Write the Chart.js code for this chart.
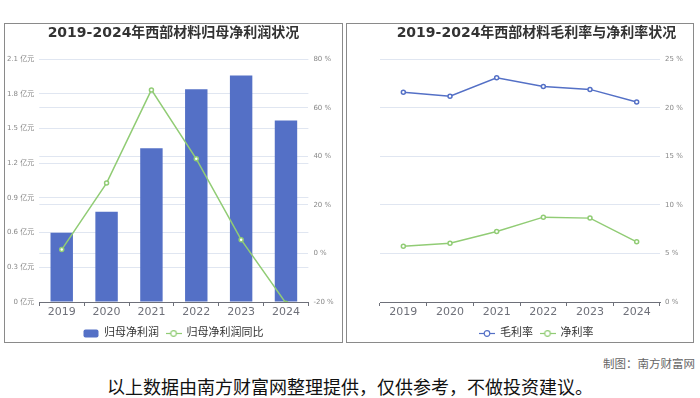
<!DOCTYPE html>
<html>
<head>
<meta charset="utf-8">
<script src="https://cdn.jsdelivr.net/npm/chart.js@4"></script>
<style>
body { margin: 0; width: 700px; height: 398px; background: #fff; position: relative; overflow: hidden; font-family: 'Noto Sans CJK SC', sans-serif; }
.panel { position: absolute; top: 23px; height: 318px; border: 1px solid #8a8a8a; overflow: hidden; }
#p1 { left: 4px; width: 337px; }
#p2 { left: 346px; width: 346px; }
.note { position: absolute; right: 5px; top: 355px; font-size: 11.5px; color: #666; }
.foot { position: absolute; left: 0; width: 700px; top: 373px; text-align: center; font-size: 18px; color: #111; }
</style>
</head>
<body>
<div class="panel" id="p1"><canvas id="c1" width="337" height="325"></canvas></div>
<div class="panel" id="p2"><canvas id="c2" width="346" height="325"></canvas></div>
<div class="note">制图：南方财富网</div>
<div class="foot">以上数据由南方财富网整理提供，仅供参考，不做投资建议。</div>
<script>
const years = ['2019', '2020', '2021', '2022', '2023', '2024'];
const netProfit = [0.60, 0.78, 1.33, 1.84, 1.96, 1.57];      // 亿元
const netProfitYoY = [1.6, 29.0, 67.4, 39.0, 5.7, -20.5];    // %
const grossMargin = [21.6, 21.2, 23.1, 22.2, 21.9, 20.6];    // %
const netMargin = [5.75, 6.06, 7.27, 8.74, 8.64, 6.2];       // %

const BLUE = '#5470c6';
const GREEN = '#91cc75';
const AXIS = '#6e7079';
const GRID = '#e0e6f1';
const FONT = "'DejaVu Sans', 'Noto Sans CJK SC', sans-serif";

Chart.defaults.font.family = FONT;
Chart.defaults.devicePixelRatio = 1;

// small legend icons in the echarts style
function makeIcon(kind, color) {
    const c = document.createElement('canvas');
    c.width = 16; c.height = 9;
    const g = c.getContext('2d');
    if (kind === 'bar') {
        g.fillStyle = color;
        g.beginPath();
        g.roundRect(0.5, 0.5, 15, 8, 2);
        g.fill();
    } else {
        g.strokeStyle = color;
        g.lineWidth = 1.2;
        g.beginPath(); g.moveTo(0, 4.5); g.lineTo(16, 4.5); g.stroke();
        g.fillStyle = '#fff';
        g.beginPath(); g.arc(8, 4.5, 2.8, 0, Math.PI * 2); g.fill(); g.stroke();
    }
    return c;
}

function legendOpts(icons) {
    return {
        position: 'bottom',
        labels: {
            usePointStyle: true,
            pointStyleWidth: 15,
            padding: 7,
            color: '#333',
            font: { size: 11 },
            generateLabels: chart => chart.data.datasets.map((ds, i) => ({
                text: ds.label,
                pointStyle: icons[i],
                fillStyle: 'transparent',
                strokeStyle: 'transparent',
                lineWidth: 0,
                hidden: false,
                datasetIndex: i,
                fontColor: '#333'
            }))
        }
    };
}

function titleOpts(text) {
    return {
        display: true,
        text: text,
        color: '#333',
        font: { size: 14, weight: 'bold' },
        padding: { top: 1, bottom: 17.5 }
    };
}

const xAxis = {
    offset: true,
    grid: { offset: true, drawOnChartArea: false, drawTicks: true, tickLength: 4, color: AXIS },
    border: { color: AXIS },
    ticks: { color: AXIS, font: { size: 11 }, padding: 0 },
    afterFit: s => { s.height = 19; }
};

new Chart(document.getElementById('c1'), {
    type: 'bar',
    data: {
        labels: years,
        datasets: [{
            type: 'bar',
            label: '归母净利润',
            data: netProfit,
            backgroundColor: BLUE,
            barPercentage: 0.5,
            categoryPercentage: 1,
            yAxisID: 'y',
            order: 1
        }, {
            type: 'line',
            label: '归母净利润同比',
            data: netProfitYoY,
            borderColor: GREEN,
            borderWidth: 1.5,
            pointRadius: 2,
            pointBorderWidth: 1.5,
            pointBackgroundColor: '#fff',
            pointBorderColor: GREEN,
            yAxisID: 'y2',
            order: 0
        }]
    },
    options: {
        responsive: false,
        animation: false,
        layout: { padding: 0 },
        plugins: {
            title: titleOpts('2019-2024年西部材料归母净利润状况'),
            legend: legendOpts([makeIcon('bar', BLUE), makeIcon('line', GREEN)]),
            tooltip: { enabled: false }
        },
        scales: {
            x: xAxis,
            y: {
                position: 'left',
                min: 0, max: 2.1,
                ticks: { stepSize: 0.3, padding: 5, color: '#888', font: { size: 7 },
                    callback: v => (v === 0 ? '0' : v.toFixed(1)) + ' 亿元' },
                grid: { color: GRID, drawTicks: false },
                border: { display: false },
                afterFit: s => { s.width = 34.3; }
            },
            y2: {
                position: 'right',
                min: -20, max: 80,
                ticks: { stepSize: 20, padding: 5, color: '#888', font: { size: 7 },
                    callback: v => v + ' %' },
                grid: { color: GRID, drawTicks: false },
                border: { display: false },
                afterFit: s => { s.width = 33.6; }
            }
        }
    }
});

new Chart(document.getElementById('c2'), {
    type: 'line',
    data: {
        labels: years,
        datasets: [{
            label: '毛利率',
            data: grossMargin,
            borderColor: BLUE,
            pointBorderColor: BLUE
        }, {
            label: '净利率',
            data: netMargin,
            borderColor: GREEN,
            pointBorderColor: GREEN
        }]
    },
    options: {
        responsive: false,
        animation: false,
        layout: { padding: { left: 33 } },
        elements: {
            line: { borderWidth: 1.5, tension: 0 },
            point: { radius: 2, borderWidth: 1.5, backgroundColor: '#fff' }
        },
        plugins: {
            title: titleOpts('2019-2024年西部材料毛利率与净利率状况'),
            legend: legendOpts([makeIcon('line', BLUE), makeIcon('line', GREEN)]),
            tooltip: { enabled: false }
        },
        scales: {
            x: xAxis,
            y: {
                position: 'right',
                min: 0, max: 25,
                ticks: { stepSize: 5, padding: 5, color: '#888', font: { size: 7 },
                    callback: v => v + ' %' },
                grid: { color: GRID, drawTicks: false },
                border: { display: false },
                afterFit: s => { s.width = 33; }
            }
        }
    }
});
</script>
</body>
</html>
